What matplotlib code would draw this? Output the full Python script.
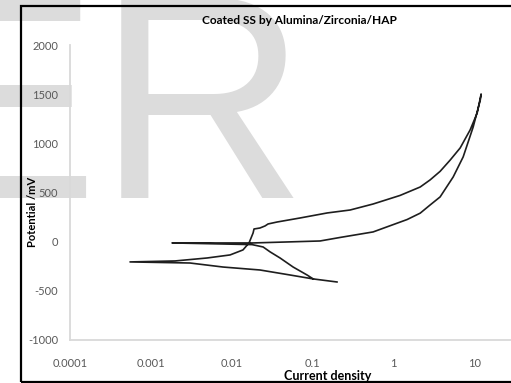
import matplotlib as mpl
mpl.use('Agg')
from matplotlib import pyplot as plt
from matplotlib.patches import Rectangle
from matplotlib.ticker import NullLocator

plt.rcParams['font.family'] = ['Lato', 'DejaVu Sans']
plt.rcParams['axes.unicode_minus'] = False

# one continuous scan, in drawing order
current = [0.102, 0.0528, 0.0224, 0.00783, 0.00305, 0.000553,
           0.0020, 0.00496, 0.00955, 0.0138, 0.0164, 0.0184, 0.0189, 0.0224,
           0.0259, 0.0282, 0.0365, 0.0703, 0.152, 0.292, 0.562, 1.21, 2.15,
           2.85, 3.79, 5.05, 6.71, 8.91, 10.9, 12.2,
           11.9, 9.72, 7.31, 5.50, 3.79, 2.85, 2.15, 1.48, 0.562, 0.220,
           0.124, 0.0485, 0.0184, 0.00718, 0.00183,
           0.00718, 0.0179, 0.0245, 0.0299, 0.0397, 0.0576, 0.0857, 0.102, 0.201]
potential = [-379, -339, -288, -258, -217, -206,
             -196, -166, -135, -84, -13, 88, 129, 139,
             160, 180, 200, 241, 292, 322, 383, 470, 556,
             628, 715, 830, 953, 1136, 1309, 1502,
             1440, 1166, 862, 658, 455, 373, 290, 225, 99, 43,
             7, -3, -13, -13, -13,
             -23, -30, -54, -104, -166, -258, -339, -379, -410]

xticks = [0.0001, 0.001, 0.01, 0.1, 1, 10]
xtick_labels = ['0.0001', '0.001', '0.01', '0.1', '1', '10']
yticks = [-1000, -500, 0, 500, 1000, 1500, 2000]

W, H = 511, 383
fig = plt.figure(figsize=(W / 100, H / 100), dpi=100)

# watermark behind everything
fig.text(-96 / W, 1 - 198 / H, 'ER', fontsize=209, family='Liberation Sans',
         color='#dcdcdc', ha='left', va='baseline', zorder=-5)

ax = fig.add_axes([70 / W, 43 / H, 485 / W, 295 / H])
ax.set_facecolor('none')
ax.plot(current, potential, color='#1e1e1e', lw=1.2)

ax.set_xscale('log')
ax.set_xlim(1e-4, 100)
ax.set_ylim(-1000, 2000)
ax.set_xticks(xticks)
ax.set_xticklabels(xtick_labels)
ax.xaxis.set_minor_locator(NullLocator())
ax.set_yticks(yticks)
ax.set_yticklabels([str(v) for v in yticks])

for s in ['top', 'right']:
    ax.spines[s].set_visible(False)
for s in ['left', 'bottom']:
    ax.spines[s].set_color('#d9d9d9')
    ax.spines[s].set_linewidth(1.3)

ax.tick_params(axis='both', length=0, labelsize=8, labelcolor='#595959')
ax.tick_params(axis='y', pad=8.5)
ax.tick_params(axis='x', pad=13)

fig.text(299 / W, 1 - 20 / H, 'Coated SS by Alumina/Zirconia/HAP',
         ha='center', va='center', fontsize=8.6, fontweight='bold')
fig.text(33 / W, 1 - 212 / H, 'Potential /mV', rotation=90,
         ha='center', va='center', fontsize=8, fontweight='bold')
fig.text(328 / W, 1 - 376 / H, 'Current density',
         ha='center', va='center', fontsize=9, fontweight='bold')

frame = Rectangle((20.5 / W, 1.5 / H), 1.0, 375.5 / H, transform=fig.transFigure,
                  fill=False, ec='black', lw=1.6)
fig.add_artist(frame)

fig.savefig('out.png', dpi=100)
